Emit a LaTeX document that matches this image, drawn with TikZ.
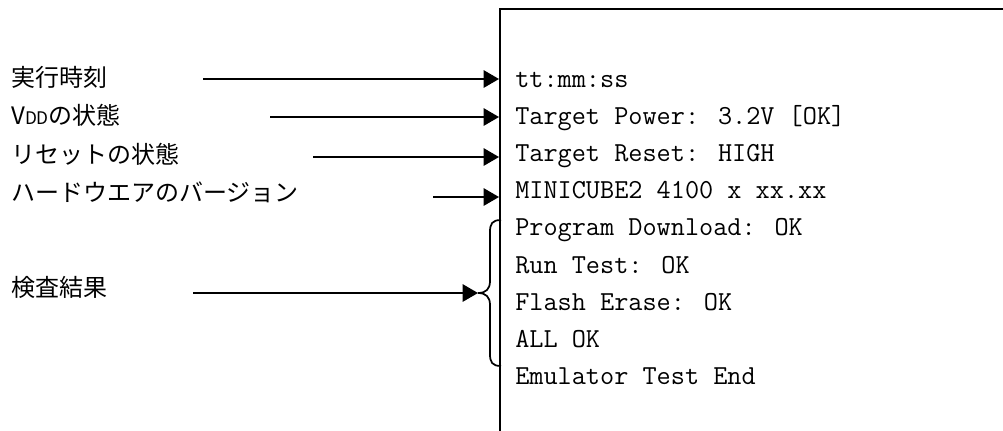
\documentclass[tikz,border=0pt]{standalone}
\usepackage{fontspec}
\newfontfamily\jpfont{Noto Sans CJK JP}
\usetikzlibrary{arrows.meta}
\tikzset{
  lbl/.style={anchor=base west, inner sep=0pt, font=\jpfont\fontsize{18pt}{20pt}\selectfont},
  outline/.style={anchor=base west, inner sep=0pt, font=\ttfamily\fontsize{20.6pt}{22pt}\selectfont},
  arr/.style={line width=1.3pt, -{Triangle[length=11.5pt,width=13pt]}},
  frame/.style={line width=1.4pt},
  bracepath/.style={line width=1.3pt}
}
\begin{document}
\begin{tikzpicture}[x=0.75pt,y=-0.75pt]
\useasboundingbox (0,0) rectangle (1003,430);

% terminal window frame (continues past the right and bottom edges)
\draw[frame] (500,431) -- (500,9) -- (1004,9);

% printed output lines
\node[outline] (t1) at (515,87)    {tt:mm:ss};
\node[outline] (t2) at (515,124.2) {Target Power: 3.2V [OK]};
\node[outline] (t3) at (515,161.4) {Target Reset: HIGH};
\node[outline] (t4) at (515,198.6) {MINICUBE2 4100 x xx.xx};
\node[outline] (t5) at (515,235.8) {Program Download: OK};
\node[outline] (t6) at (515,273)   {Run Test: OK};
\node[outline] (t7) at (515,310.2) {Flash Erase: OK};
\node[outline] (t8) at (515,347.4) {ALL OK};
\node[outline] (t9) at (515,384.6) {Emulator Test End};

% explanation labels
\node[lbl] (l1) at (11,86)  {実行時刻};
\node[lbl] (l2) at (11,124) {V{\fontsize{13pt}{14pt}\selectfont DD}の状態};
\node[lbl] (l3) at (11,163) {リセットの状態};
\node[lbl] (l4) at (11,201) {ハードウエアのバージョン};
\node[lbl] (l5) at (11,296) {検査結果};

% arrow start and end points
\coordinate (s1) at (203,79);  \coordinate (e1) at (499,79);
\coordinate (s2) at (270,117); \coordinate (e2) at (499,117);
\coordinate (s3) at (313,157); \coordinate (e3) at (499,157);
\coordinate (s4) at (433,197); \coordinate (e4) at (499,197);
\coordinate (s5) at (193,293);

% brace grouping the test results
\coordinate (btop) at (501,220);
\coordinate (btip) at (478,293);
\coordinate (bbot) at (501,366);
\draw[bracepath] (btop) .. controls (492,220) and (490,224) .. (490,232)
  -- (490,281) .. controls (490,289) and (486,293) .. (btip)
  .. controls (486,293) and (490,297) .. (490,305)
  -- (490,354) .. controls (490,362) and (492,366) .. (bbot);

\draw[arr] (s1) -- (e1);
\draw[arr] (s2) -- (e2);
\draw[arr] (s3) -- (e3);
\draw[arr] (s4) -- (e4);
\draw[arr] (s5) -- (btip);
\end{tikzpicture}
\end{document}
